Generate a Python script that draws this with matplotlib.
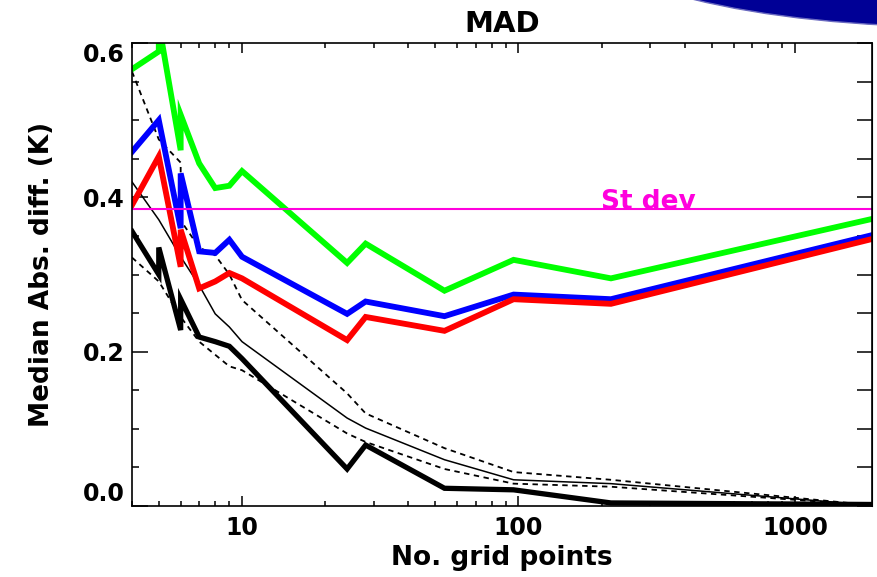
"""
MAD vs number of grid points
============================
Median absolute difference for several configurations, log x axis.
"""

import matplotlib
matplotlib.use("Agg")
import matplotlib.pyplot as plt
from matplotlib.patches import Ellipse
from matplotlib.ticker import MultipleLocator, LogLocator, NullFormatter


# ---------------------------------------------------------------------------
# Data
# ---------------------------------------------------------------------------

grid_pts = [4, 5, 5, 6, 6, 7, 8, 9, 10, 24, 28, 54, 96, 216, 1900]

mad_green = [0.566, 0.589, 0.625, 0.461, 0.507, 0.444, 0.412, 0.415, 0.434,
             0.315, 0.340, 0.279, 0.319, 0.295, 0.372]
mad_blue = [0.459, 0.500, 0.500, 0.360, 0.431, 0.330, 0.328, 0.345, 0.323,
            0.249, 0.265, 0.246, 0.274, 0.268, 0.351]
mad_red = [0.390, 0.453, 0.453, 0.310, 0.358, 0.282, 0.291, 0.302, 0.295,
           0.215, 0.245, 0.227, 0.268, 0.262, 0.346]
mad_black = [0.356, 0.300, 0.335, 0.228, 0.268, 0.219, 0.213, 0.207, 0.191,
             0.048, 0.079, 0.023, 0.021, 0.004, 0.002]
mad_thin = [0.420, 0.371, 0.371, 0.323, 0.323, 0.286, 0.249, 0.232, 0.213,
            0.114, 0.101, 0.060, 0.034, 0.029, 0.001]
mad_upper = [0.563, 0.475, 0.475, 0.445, 0.370, 0.335, 0.325, 0.300, 0.267,
             0.146, 0.120, 0.075, 0.044, 0.034, 0.001]
mad_lower = [0.322, 0.291, 0.291, 0.245, 0.245, 0.213, 0.196, 0.181, 0.176,
             0.094, 0.083, 0.048, 0.029, 0.025, 0.001]

st_dev = 0.385
st_dev_label = "St dev"
st_dev_label_x = 294

x_ticks = [10, 100, 1000]
x_tick_labels = ["10", "100", "1000"]
y_ticks = [0.0, 0.2, 0.4, 0.6]
y_tick_labels = ["0.0", "0.2", "0.4", "0.6"]


# ---------------------------------------------------------------------------
# Figure
# ---------------------------------------------------------------------------

plt.rcParams["font.family"] = ["DejaVu Sans"]
plt.rcParams["font.weight"] = "bold"

fig = plt.figure(figsize=(8.77, 5.77), dpi=100)
ax = fig.add_axes([0.1505, 0.123, 0.8438, 0.8025])

# decorative blue blob in the top right corner
fig.add_artist(Ellipse((9.6, 6.45), 7.56, 1.9, transform=fig.dpi_scale_trans,
                       facecolor="#000096", edgecolor="#6a6ac0", lw=1.0))

ax.plot(grid_pts, mad_upper, color="black", lw=1.3, ls=(0, (3, 2.5)))
ax.plot(grid_pts, mad_lower, color="black", lw=1.3, ls=(0, (3, 2.5)))
ax.plot(grid_pts, mad_thin, color="black", lw=1.1)
ax.plot(grid_pts, mad_black, color="black", lw=3.8, solid_joinstyle="miter")
ax.plot(grid_pts, mad_blue, color="#0000ff", lw=4.2, solid_joinstyle="miter")
ax.plot(grid_pts, mad_red, color="#ff0000", lw=4.2, solid_joinstyle="miter")
ax.plot(grid_pts, mad_green, color="#00ff00", lw=4.2, solid_joinstyle="miter")

ax.axhline(st_dev, color="#ff00dd", lw=1.5)
ax.text(st_dev_label_x, st_dev, st_dev_label, color="#ff00dd", fontsize=19,
        fontweight="bold", ha="center", va="baseline")

ax.set_xscale("log")
ax.set_xlim(4, 1900)
ax.set_ylim(0, 0.6)

ax.set_xticks(x_ticks, labels=x_tick_labels)
ax.xaxis.set_minor_locator(LogLocator(base=10, subs=range(2, 10)))
ax.xaxis.set_minor_formatter(NullFormatter())
ax.set_yticks(y_ticks, labels=y_tick_labels)
ax.yaxis.set_minor_locator(MultipleLocator(0.05))

ax.tick_params(axis="x", which="both", direction="in", top=True, bottom=True,
               width=1.1, labelsize=17, pad=7)
ax.tick_params(axis="x", which="major", length=7.2)
ax.tick_params(axis="x", which="minor", length=3.6)
ax.tick_params(axis="y", which="both", direction="in", left=True, right=False,
               width=1.1, labelsize=17, pad=5)
ax.tick_params(axis="y", which="major", length=11.5)
ax.tick_params(axis="y", which="minor", length=5)

# right-hand ticks are all long
sec = ax.secondary_yaxis("right")
sec.set_yticks(y_ticks)
sec.yaxis.set_minor_locator(MultipleLocator(0.05))
sec.tick_params(which="both", direction="in", length=10.8, width=1.1,
                labelright=False)

labels = ax.get_yticklabels()
labels[0].set_va("bottom")
labels[-1].set_va("top")

for spine in ax.spines.values():
    spine.set_linewidth(1.2)

ax.set_title("MAD", fontsize=21, fontweight="bold", pad=8)
ax.set_xlabel("No. grid points", fontsize=19, fontweight="bold", labelpad=4)
ax.set_ylabel("Median Abs. diff. (K)", fontsize=19, fontweight="bold",
              labelpad=20)

fig.savefig("out.png", dpi=100)
